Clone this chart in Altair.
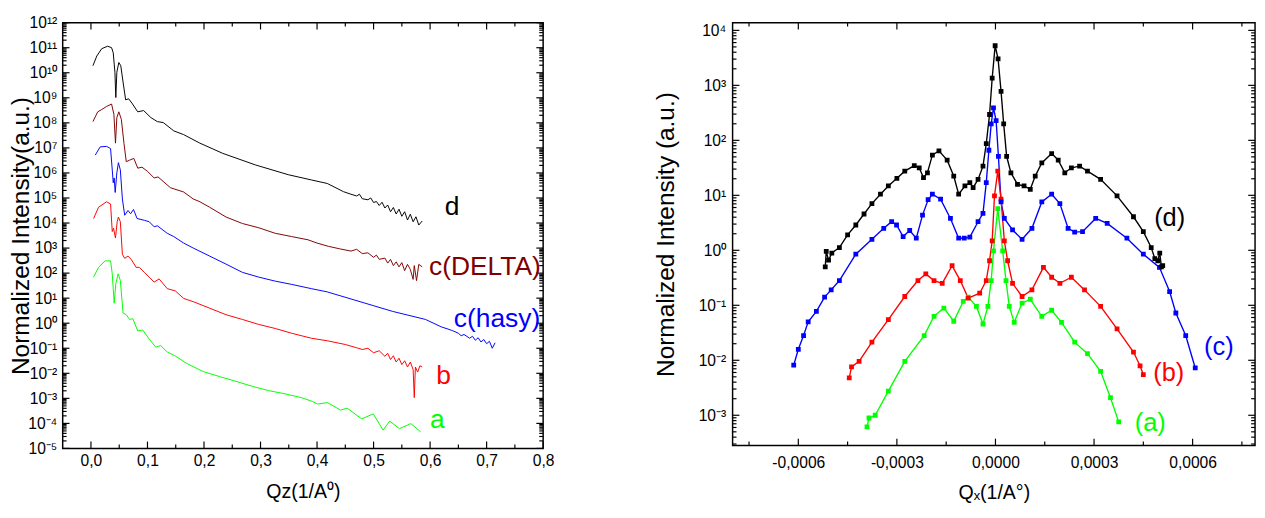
import altair as alt
import pandas as pd

FONT = "Liberation Sans"

# ---------------- left panel: specular reflectivity (log10 intensity) ----------------
L_NAMES = ["d", "c(DELTA)", "c(hasy)", "b", "a"]
L_COLORS = ["#000000", "#800000", "#0000ff", "#ff0000", "#00ff00"]

d_q = [0.0035, 0.0104, 0.019, 0.0295, 0.0365, 0.0394, 0.0424, 0.044, 0.0458, 0.0493, 0.0528,
       0.0568, 0.0614, 0.0667, 0.0724, 0.0828, 0.0932, 0.106, 0.1175, 0.128, 0.1465, 0.164,
       0.1927, 0.2333, 0.291, 0.349, 0.39, 0.418, 0.447, 0.46, 0.47, 0.475, 0.48, 0.49, 0.495,
       0.50, 0.505, 0.51, 0.515, 0.52, 0.525, 0.53, 0.535, 0.54, 0.545, 0.55, 0.555, 0.56,
       0.565, 0.57, 0.575, 0.58, 0.586]
d_lg = [10.28, 10.67, 10.96, 11.06, 11.0, 10.8, 10.02, 9.01, 10.02, 10.41, 10.28,
        9.63, 8.92, 8.96, 8.79, 8.44, 8.49, 8.21, 8.05, 8.01, 7.68, 7.53,
        7.19, 6.78, 6.32, 5.93, 5.72, 5.58, 5.25, 5.15, 5.08, 5.15, 4.97, 4.93, 5.0,
        4.82, 4.86, 4.70, 4.83, 4.60, 4.72, 4.45, 4.62, 4.36, 4.55, 4.27, 4.45, 4.12,
        4.35, 4.05, 4.25, 3.92, 4.08]

cD_q = [0.0035, 0.012, 0.019, 0.028, 0.0365, 0.0406, 0.0434, 0.0458, 0.0493, 0.0538, 0.0585,
        0.0625, 0.0684, 0.0759, 0.0828, 0.0903, 0.1002, 0.1118, 0.1187, 0.1406, 0.1639, 0.181,
        0.1927, 0.21, 0.239, 0.268, 0.297, 0.326, 0.355, 0.384, 0.40, 0.42, 0.44, 0.46, 0.47,
        0.48, 0.49, 0.50, 0.505, 0.51, 0.52, 0.525, 0.53, 0.535, 0.54, 0.545, 0.55, 0.555,
        0.56, 0.565, 0.57, 0.572, 0.576, 0.58, 0.586]
cD_lg = [8.05, 8.44, 8.53, 8.66, 8.75, 8.34, 7.19, 8.21, 8.44, 8.14, 7.17,
         6.45, 6.51, 6.58, 6.19, 6.23, 6.06, 5.80, 5.84, 5.41, 5.24, 4.96,
         4.85, 4.63, 4.24, 3.98, 3.81, 3.59, 3.46, 3.33, 3.20, 3.07, 2.97, 2.88, 2.95,
         2.78, 2.81, 2.63, 2.72, 2.55, 2.60, 2.40, 2.55, 2.30, 2.45, 2.25, 2.42, 2.10,
         2.35, 2.15, 1.75, 2.30, 1.70, 2.35, 2.25]

cH_q = [0.0076, 0.0163, 0.0278, 0.0347, 0.0377, 0.0394, 0.0411, 0.0429, 0.0458, 0.0486, 0.052,
        0.0556, 0.0597, 0.0655, 0.0701, 0.0753, 0.0816, 0.0944, 0.1031, 0.1118, 0.1175, 0.135,
        0.1465, 0.164, 0.181, 0.21, 0.239, 0.268, 0.297, 0.326, 0.355, 0.39, 0.418, 0.476,
        0.534, 0.592, 0.62, 0.63, 0.64, 0.65, 0.655, 0.66, 0.67, 0.675, 0.68, 0.685, 0.69,
        0.695, 0.70, 0.705, 0.71, 0.715]
cH_lg = [6.71, 7.04, 7.06, 6.97, 6.12, 5.61, 5.80, 5.22, 6.0, 6.41, 6.12,
         4.96, 4.31, 4.50, 4.37, 4.54, 4.18, 4.11, 4.05, 3.85, 3.89, 3.59,
         3.46, 3.20, 3.0, 2.68, 2.36, 2.03, 1.84, 1.68, 1.55, 1.38, 1.25, 0.86,
         0.47, 0.15, -0.15, -0.22, -0.30, -0.40, -0.50, -0.45, -0.60, -0.52, -0.68, -0.58, -0.75,
         -0.65, -0.82, -0.72, -1.0, -0.78]

b_q = [0.0047, 0.0134, 0.0278, 0.0347, 0.0377, 0.04, 0.0434, 0.0464, 0.0486, 0.052, 0.0556,
       0.0597, 0.0655, 0.0712, 0.0799, 0.0857, 0.0944, 0.1031, 0.1118, 0.1205, 0.135, 0.1493,
       0.164, 0.181, 0.21, 0.239, 0.268, 0.297, 0.326, 0.355, 0.39, 0.418, 0.45, 0.47, 0.48,
       0.49, 0.50, 0.51, 0.52, 0.525, 0.53, 0.535, 0.54, 0.545, 0.55, 0.555, 0.56, 0.565,
       0.57, 0.572, 0.574, 0.578, 0.582, 0.586]
b_lg = [4.18, 4.63, 4.85, 4.76, 3.66, 3.79, 3.40, 4.05, 4.24, 4.05, 2.75,
        2.59, 2.68, 2.55, 2.23, 2.23, 2.03, 1.84, 1.64, 1.77, 1.38, 1.29,
        0.99, 0.86, 0.60, 0.34, 0.15, -0.05, -0.21, -0.40, -0.60, -0.70, -0.85, -0.98, -1.05,
        -1.0, -1.18, -1.10, -1.32, -1.20, -1.45, -1.30, -1.55, -1.40, -1.65, -1.50, -1.75, -1.55,
        -1.85, -2.97, -1.75, -1.95, -1.70, -1.75]

a_q = [0.0047, 0.0134, 0.025, 0.0347, 0.0377, 0.0411, 0.044, 0.0481, 0.052, 0.0568, 0.0625,
       0.0684, 0.0741, 0.0828, 0.0915, 0.1031, 0.1146, 0.1233, 0.135, 0.1493, 0.1696, 0.1986,
       0.2274, 0.2564, 0.2854, 0.3142, 0.3432, 0.3722, 0.3924, 0.401, 0.4184, 0.4417, 0.4531,
       0.479, 0.4995, 0.5168, 0.5285, 0.5458, 0.566, 0.5833]
a_lg = [1.84, 2.23, 2.49, 2.49, 1.97, 0.80, 1.58, 1.97, 1.71, 0.41, 0.34,
        0.15, 0.18, -0.31, -0.27, -0.63, -0.96, -0.89, -1.15, -1.31, -1.61, -1.93,
        -2.13, -2.32, -2.52, -2.69, -2.82, -2.97, -3.13, -3.23, -3.17, -3.47, -3.39,
        -3.82, -3.62, -4.27, -3.91, -4.21, -4.01, -4.34]

L_LABEL_Q = [0.626, 0.598, 0.642, 0.611, 0.600]
L_LABEL_LG = [4.63, 2.23, 0.15, -2.13, -3.88]

L_XTICKS = [0.0, 0.1, 0.2, 0.3, 0.4, 0.5, 0.6, 0.7, 0.8]
L_XMINOR = [0.05, 0.15, 0.25, 0.35, 0.45, 0.55, 0.65, 0.75]
L_YEXP = list(range(-5, 13))
L_XDOMAIN = [-0.05, 0.8]

# ---------------- right panel: transverse scans (log10 intensity) ----------------
R_NAMES = ["(d)", "(c)", "(b)", "(a)"]
R_COLORS = ["#000000", "#0000ff", "#ff0000", "#00ff00"]

rd_q = [-5.18, -5.15, -5.08, -4.98, -4.75, -4.50, -4.25, -4.0, -3.76, -3.5, -3.26, -3.0, -2.76,
        -2.47, -2.32, -2.19, -2.07, -1.92, -1.72, -1.47, -1.27, -1.12, -0.93, -0.78, -0.68, -0.53,
        -0.38, -0.28, -0.18, -0.10, -0.01, 0.08, 0.17, 0.25, 0.34, 0.47, 0.67, 0.87, 1.06, 1.21,
        1.41, 1.71, 1.91, 2.11, 2.31, 2.56, 2.80, 3.2, 3.7, 4.2, 4.5, 4.74, 4.85, 4.94, 5.0,
        5.05, 5.09]
rd_lg = [-0.30, -0.02, -0.18, -0.05, 0.05, 0.28, 0.46, 0.66, 0.85, 1.02, 1.17, 1.31, 1.44,
         1.54, 1.50, 1.32, 1.41, 1.73, 1.81, 1.64, 1.35, 1.02, 1.17, 1.23, 1.14, 1.29,
         1.53, 1.94, 2.47, 3.13, 3.72, 3.48, 2.89, 2.30, 1.71, 1.41, 1.20, 1.17, 1.11, 1.35,
         1.59, 1.76, 1.64, 1.41, 1.50, 1.53, 1.44, 1.29, 0.99, 0.61, 0.34, 0.05, -0.15, -0.19, -0.05,
         -0.30, -0.28]

rc_q = [-6.14, -6.0, -5.84, -5.7, -5.45, -5.2, -5.0, -4.75, -4.25, -3.76, -3.4, -3.16, -3.01,
        -2.81, -2.61, -2.41, -2.22, -2.05, -1.92, -1.67, -1.37, -1.12, -0.95, -0.78, -0.53, -0.38,
        -0.28, -0.20, -0.13, -0.06, 0.02, 0.09, 0.17, 0.27, 0.52, 0.81, 1.11, 1.41, 1.71, 1.96,
        2.21, 2.41, 2.65, 3.05, 3.4, 4.0, 4.5, 4.99, 5.3, 5.49, 5.79, 6.08]
rc_lg = [-2.09, -1.80, -1.55, -1.30, -1.11, -0.85, -0.72, -0.55, -0.07, 0.20, 0.40, 0.52, 0.46,
         0.25, 0.36, 0.22, 0.64, 0.92, 1.02, 0.93, 0.58, 0.22, 0.22, 0.24, 0.52, 0.67,
         1.23, 1.82, 2.30, 2.59, 2.36, 1.71, 0.88, 0.58, 0.37, 0.20, 0.40, 0.88, 1.02, 0.85,
         0.40, 0.33, 0.34, 0.58, 0.49, 0.22, -0.07, -0.31, -0.75, -1.14, -1.55, -2.14]

rb_q = [-4.45, -4.38, -4.15, -3.76, -3.26, -2.76, -2.36, -2.12, -1.87, -1.62, -1.32, -1.07,
        -0.83, -0.48, -0.28, -0.18, -0.10, -0.03, 0.07, 0.17, 0.27, 0.37, 0.52, 0.81, 1.11,
        1.46, 1.71, 1.96, 2.31, 2.71, 3.2, 3.7, 4.2, 4.4, 4.5]
rb_lg = [-2.32, -2.12, -2.02, -1.67, -1.26, -0.84, -0.55, -0.43, -0.55, -0.60, -0.28, -0.55,
         -0.87, -0.78, -0.55, -0.19, 0.17, 0.99, 1.44, 0.93, 0.17, -0.19, -0.60, -0.84, -0.72,
         -0.31, -0.49, -0.60, -0.49, -0.72, -1.02, -1.43, -1.85, -2.10, -2.26]

ra_q = [-3.91, -3.85, -3.66, -3.26, -2.76, -2.17, -1.87, -1.57, -1.27, -0.98, -0.83, -0.58,
        -0.38, -0.23, -0.13, -0.06, 0.07, 0.22, 0.32, 0.42, 0.57, 0.81, 1.06, 1.41, 1.71,
        2.01, 2.41, 2.8, 3.2, 3.5, 3.75]
ra_lg = [-3.21, -3.05, -3.00, -2.56, -2.02, -1.55, -1.20, -1.05, -1.29, -0.93, -0.85, -1.02,
         -1.34, -1.02, -0.55, -0.01, 0.76, -0.01, -0.55, -1.02, -1.31, -0.96, -0.89, -1.20, -1.09,
         -1.31, -1.67, -1.88, -2.20, -2.68, -3.12]
R_QUNIT = 1e-4

R_LABEL_Q = [0.000483, 0.000635, 0.00048, 0.000424]
R_LABEL_LG = [0.58, -1.76, -2.23, -3.15]

R_XTICKS = [-0.0006, -0.0003, 0.0, 0.0003, 0.0006]
R_XMINOR = [-0.00075, -0.00045, -0.00015, 0.00015, 0.00045, 0.00075]
R_YEXP = list(range(-3, 5))
R_XDOMAIN = [-0.0008, 0.00079]
R_YDOMAIN_LG = [-3.55, 4.14]

SUP = str.maketrans("0123456789-", "⁰¹²³⁴⁵⁶⁷⁸⁹⁻")


def pow_label_expr(exps):
    expr = "''"
    for e in exps:
        expr = f"round(log(datum.value)/LN10) == {e} ? '10{str(e).translate(SUP)}' : " + expr
    return expr


def minor_log(lo, hi):
    vals = []
    for n in range(int(lo) - 1, int(hi) + 1):
        for k in range(2, 10):
            v = k * 10.0 ** n
            if 10 ** lo < v < 10 ** hi:
                vals.append(v)
    return vals


def tick_layers(xscale, yscale, xaxis, yaxis, xmaj, xmin, ymaj, ymin, W, H, lmaj=7, lmin=4):
    layers = []
    for vals, ln in ((xmaj, lmaj), (xmin, lmin)):
        df = pd.DataFrame({"v": vals})
        base = alt.Chart(df).mark_rule(color="black", strokeWidth=1.2)
        layers.append(base.encode(x=alt.X("v:Q", scale=xscale, axis=xaxis),
                                  y=alt.value(H), y2=alt.value(H - ln)))
        layers.append(base.encode(x=alt.X("v:Q", scale=xscale, axis=xaxis),
                                  y=alt.value(0), y2=alt.value(ln)))
    for vals, ln in ((ymaj, lmaj), (ymin, lmin)):
        df = pd.DataFrame({"v": vals})
        base = alt.Chart(df).mark_rule(color="black", strokeWidth=1.2)
        layers.append(base.encode(y=alt.Y("v:Q", scale=yscale, axis=yaxis),
                                  x=alt.value(0), x2=alt.value(ln)))
        layers.append(base.encode(y=alt.Y("v:Q", scale=yscale, axis=yaxis),
                                  x=alt.value(W), x2=alt.value(W - ln)))
    return layers


# ---------------- build left panel ----------------
LW, LH = 492, 436
rows = []
for name, qs, lgs in zip(L_NAMES, [d_q, cD_q, cH_q, b_q, a_q], [d_lg, cD_lg, cH_lg, b_lg, a_lg]):
    for i, (q, lg) in enumerate(zip(qs, lgs)):
        rows.append({"series": name, "q": q, "I": 10 ** lg, "i": i})
ldf = pd.DataFrame(rows)
llab = pd.DataFrame({"series": L_NAMES, "q": L_LABEL_Q, "I": [10 ** v for v in L_LABEL_LG]})

lx = alt.Scale(domain=L_XDOMAIN, nice=False, zero=False)
ly = alt.Scale(type="log", domain=[10.0 ** L_YEXP[0], 10.0 ** L_YEXP[-1]], nice=False)
lcol = alt.Scale(domain=L_NAMES, range=L_COLORS)
lxaxis = alt.Axis(
    values=L_XTICKS, title="Qz(1/A⁰)", grid=False, domain=False, ticks=False, tickSize=0,
    labelPadding=4, labelFlush=False, labelExpr="replace(format(datum.value, '.1f'), '.', ',')",
    titleY=34, titleFontSize=20)
lyaxis = alt.Axis(
    values=[10.0 ** e for e in L_YEXP], title="Normalized Intensity(a.u.)", grid=False,
    domain=False, ticks=False, tickSize=0, labelPadding=6,
    labelExpr=pow_label_expr(L_YEXP), titleX=-30, titleFontSize=25)

l_lines = alt.Chart(ldf).mark_line(strokeWidth=1, clip=True).encode(
    x=alt.X("q:Q", scale=lx, axis=lxaxis),
    y=alt.Y("I:Q", scale=ly, axis=lyaxis),
    color=alt.Color("series:N", scale=lcol, legend=None),
    order="i:Q",
)
l_text = alt.Chart(llab).mark_text(align="left", baseline="middle", fontSize=27, font=FONT).encode(
    x=alt.X("q:Q", scale=lx, axis=lxaxis), y=alt.Y("I:Q", scale=ly, axis=lyaxis), text="series:N",
    color=alt.Color("series:N", scale=lcol, legend=None))

l_minor_y = minor_log(L_YEXP[0], L_YEXP[-1])
left = alt.layer(
    l_lines,
    *tick_layers(lx, ly, lxaxis, lyaxis, L_XTICKS, L_XMINOR, [10.0 ** e for e in L_YEXP],
                 l_minor_y, LW, LH),
    l_text,
).properties(width=LW, height=LH)

# ---------------- build right panel ----------------
RW, RH = 535, 433
rows = []
for name, qs, lgs in zip(R_NAMES, [rd_q, rc_q, rb_q, ra_q], [rd_lg, rc_lg, rb_lg, ra_lg]):
    for i, (q, lg) in enumerate(zip(qs, lgs)):
        rows.append({"series": name, "q": q * R_QUNIT, "I": 10 ** lg, "i": i})
rdf = pd.DataFrame(rows)
rlab = pd.DataFrame({"series": R_NAMES, "q": R_LABEL_Q, "I": [10 ** v for v in R_LABEL_LG]})

rx = alt.Scale(domain=R_XDOMAIN, nice=False, zero=False)
ry = alt.Scale(type="log", domain=[10 ** R_YDOMAIN_LG[0], 10 ** R_YDOMAIN_LG[1]], nice=False)
rcol = alt.Scale(domain=R_NAMES, range=R_COLORS)
rxaxis = alt.Axis(
    values=R_XTICKS, title="Qₓ(1/A°)", grid=False, domain=False, ticks=False, tickSize=0,
    labelPadding=10, labelFlush=False,
    labelExpr="replace(replace(format(datum.value, '.4f'), '.', ','), '\u2212', '-')",
    titleY=38, titleFontSize=20)
ryaxis = alt.Axis(
    values=[10.0 ** e for e in R_YEXP], title="Normalized Intensity (a.u.)", grid=False,
    domain=False, ticks=False, tickSize=0, labelPadding=7,
    labelExpr=pow_label_expr(R_YEXP), titleX=-55, titleFontSize=25)

r_lines = alt.Chart(rdf).mark_line(
    strokeWidth=1.4, clip=True,
    point=alt.OverlayMarkDef(shape="square", size=24, filled=True),
).encode(
    x=alt.X("q:Q", scale=rx, axis=rxaxis),
    y=alt.Y("I:Q", scale=ry, axis=ryaxis),
    color=alt.Color("series:N", scale=rcol, legend=None),
    order="i:Q",
)
r_text = alt.Chart(rlab).mark_text(align="left", baseline="middle", fontSize=26, font=FONT).encode(
    x=alt.X("q:Q", scale=rx, axis=rxaxis), y=alt.Y("I:Q", scale=ry, axis=ryaxis), text="series:N",
    color=alt.Color("series:N", scale=rcol, legend=None))

r_minor_y = minor_log(R_YDOMAIN_LG[0], R_YDOMAIN_LG[1])
right = alt.layer(
    r_lines,
    *tick_layers(rx, ry, rxaxis, ryaxis, R_XTICKS, R_XMINOR, [10.0 ** e for e in R_YEXP],
                 r_minor_y, RW, RH),
    r_text,
).properties(width=RW, height=RH)

chart = alt.hconcat(left, right, spacing=101).resolve_scale(
    color="independent", x="independent", y="independent"
).properties(
    padding={"left": 0, "top": 0, "right": 0, "bottom": 0}
).configure_view(
    stroke="black", strokeWidth=1.5
).configure_axis(
    labelFont=FONT, labelFontSize=16, labelColor="black",
    titleFont=FONT, titleFontWeight="normal", titleColor="black",
).configure_text(font=FONT)

chart.save("out.html", embed_options={"renderer": "svg", "actions": False})
